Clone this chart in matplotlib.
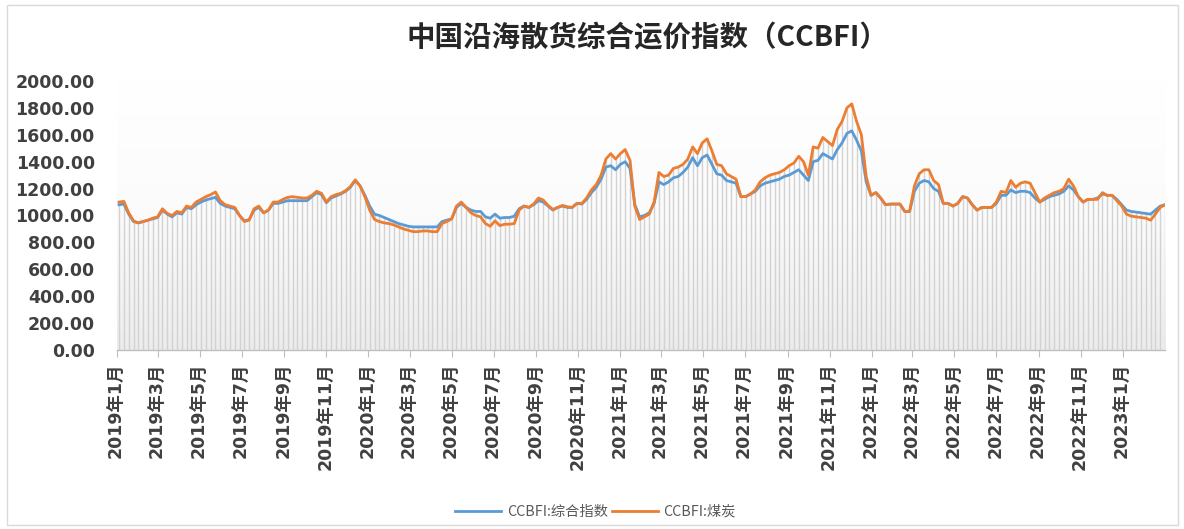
import numpy as np
import pandas as pd
import matplotlib
matplotlib.use("Agg")
import matplotlib.pyplot as plt
import matplotlib.dates as mdates
from matplotlib.colors import LinearSegmentedColormap
from matplotlib.patches import Rectangle

# ---------------- data (weekly) ----------------
start_date = "2019-01-04"

composite = [
    1080, 1085, 1010, 955, 945, 955, 965, 975, 985, 1040,
    1010, 990, 1020, 1010, 1060, 1050, 1080, 1100, 1115, 1125,
    1135, 1090, 1070, 1060, 1050, 1000, 960, 970, 1040, 1060,
    1020, 1040, 1090, 1090, 1100, 1110, 1110, 1110, 1110, 1110,
    1140, 1170, 1155, 1095, 1130, 1145, 1160, 1180, 1210, 1260,
    1220, 1150, 1070, 1010, 1000, 985, 970, 955, 940, 930,
    920, 915, 915, 915, 915, 915, 915, 955, 965, 975,
    1060, 1090, 1060, 1040, 1030, 1030, 990, 980, 1010, 980,
    985, 985, 995, 1050, 1070, 1060, 1080, 1110, 1100, 1070,
    1040, 1060, 1070, 1060, 1060, 1090, 1085, 1120, 1170, 1210,
    1270, 1360, 1370, 1340, 1380, 1400, 1350, 1080, 990, 1000,
    1020, 1090, 1250, 1230, 1250, 1280, 1290, 1320, 1360, 1430,
    1370, 1430, 1450, 1380, 1310, 1300, 1260, 1250, 1240, 1140,
    1140, 1160, 1180, 1220, 1240, 1250, 1260, 1270, 1290, 1300,
    1320, 1340, 1300, 1260, 1400, 1410, 1460, 1440, 1420, 1490,
    1540, 1610, 1630, 1560, 1480, 1250, 1150, 1170, 1130, 1080,
    1085, 1085, 1085, 1030, 1030, 1180, 1240, 1260, 1250, 1200,
    1180, 1090, 1090, 1070, 1090, 1140, 1130, 1080, 1040, 1060,
    1060, 1060, 1090, 1150, 1150, 1190, 1170, 1180, 1180, 1170,
    1130, 1100, 1120, 1140, 1150, 1160, 1180, 1220, 1190, 1140,
    1100, 1120, 1120, 1130, 1160, 1150, 1150, 1120, 1080, 1040,
    1030, 1025, 1020, 1015, 1010, 1040, 1070, 1080,
]

coal = [
    1100, 1105, 1020, 960, 945, 955, 965, 980, 990, 1050,
    1015, 1000, 1030, 1020, 1070, 1060, 1100, 1120, 1140, 1155,
    1175, 1110, 1080, 1070, 1060, 1000, 955, 965, 1050, 1070,
    1020, 1040, 1100, 1100, 1120, 1135, 1140, 1135, 1130, 1130,
    1150, 1180, 1165, 1100, 1140, 1155, 1165, 1185, 1215, 1265,
    1220, 1140, 1040, 970, 955, 945, 940, 930, 915, 900,
    890, 880, 880, 885, 885, 880, 880, 940, 955, 975,
    1070, 1100, 1060, 1020, 1000, 990, 940, 920, 960, 925,
    935, 935, 940, 1040, 1070, 1060, 1085, 1130, 1115, 1075,
    1045, 1060, 1075, 1065, 1060, 1090, 1090, 1130, 1190, 1230,
    1300, 1420, 1460, 1420, 1460, 1490, 1410, 1070, 970, 990,
    1010, 1100, 1320, 1290, 1300, 1350, 1360, 1380, 1420, 1510,
    1460, 1540, 1570, 1480, 1380, 1370, 1310, 1290, 1270, 1140,
    1140, 1160, 1190, 1250, 1280, 1300, 1310, 1320, 1340, 1370,
    1390, 1440, 1400, 1300, 1510, 1500, 1580, 1550, 1520, 1640,
    1700, 1800, 1830, 1700, 1600, 1290, 1150, 1170, 1130, 1080,
    1085, 1085, 1085, 1030, 1030, 1220, 1310, 1340, 1340, 1260,
    1230, 1090, 1090, 1070, 1090, 1140, 1130, 1080, 1040, 1060,
    1060, 1060, 1100, 1180, 1170, 1260, 1210, 1240, 1250, 1240,
    1170, 1100, 1130, 1150, 1170, 1180, 1200, 1270, 1220, 1140,
    1100, 1120, 1120, 1120, 1170, 1150, 1150, 1110, 1070, 1010,
    995, 990, 985, 980, 965, 1010, 1060, 1080,
]

series_names = ["CCBFI:综合指数", "CCBFI:煤炭"]
title_text = "中国沿海散货综合运价指数（CCBFI）"
y_ticks = [0, 200, 400, 600, 800, 1000, 1200, 1400, 1600, 1800, 2000]

# ---------------- figure ----------------
dates = pd.date_range(start_date, periods=len(composite), freq="7D")
comp = np.array(composite, dtype=float)
coal_a = np.array(coal, dtype=float)

fig = plt.figure(figsize=(11.84, 5.29), dpi=100)
fig.patch.set_facecolor("white")
# outer light border
fig.patches.append(Rectangle((0.006, 0.008), 0.989, 0.982, transform=fig.transFigure,
                             fill=False, edgecolor="#d9d9d9", linewidth=1.0))

ax = fig.add_axes([0.0988, 0.3384, 0.8852, 0.5085])

x0 = mdates.date2num(pd.Timestamp("2019-01-01"))
x1 = mdates.date2num(dates[-1])
ax.set_xlim(x0, x1)
ax.set_ylim(0, 2000)

# background gradient in plot area: white on top, light grey at bottom
grad = np.linspace(0, 1, 256).reshape(-1, 1)
cmap = LinearSegmentedColormap.from_list("bg", ["#ffffff", "#fbfbfb", "#ececec"])
ax.imshow(grad, extent=[x0, x1, 0, 2000], aspect="auto", cmap=cmap,
          origin="upper", zorder=0, vmin=0, vmax=1)

xd = mdates.date2num(dates)
top = np.maximum(comp, coal_a)
ax.vlines(xd, 0, top, colors="#d2d2d2", linewidth=1.0, zorder=1)

ax.plot(xd, comp, color="#5B9BD5", linewidth=2.0, label=series_names[0], zorder=3)
ax.plot(xd, coal_a, color="#ED7D31", linewidth=2.0, label=series_names[1], zorder=4)

# axes styling
for s in ["left", "right", "top"]:
    ax.spines[s].set_visible(False)
ax.spines["bottom"].set_color("#bfbfbf")
ax.spines["bottom"].set_linewidth(1.0)

ax.set_yticks(y_ticks)
ax.set_yticklabels([f"{v:.2f}" for v in y_ticks], fontsize=12.5, fontweight="bold",
                   color="#404040", family=["DejaVu Sans"])
ax.tick_params(axis="y", length=0, pad=16)

tick_dates = pd.date_range("2019-01-01", "2023-01-01", freq="2MS")
ax.set_xticks(mdates.date2num(tick_dates))
ax.set_xticklabels([f"{d.year}年{d.month}月" for d in tick_dates], rotation=90,
                   fontsize=12.5, fontweight="bold", color="#404040",
                   family=["DejaVu Sans", "Noto Sans CJK SC"])
ax.tick_params(axis="x", length=5, color="#bfbfbf", pad=4)

fig.text(0.547, 0.928, title_text, ha="center", va="center", fontsize=20.5,
         fontweight="bold", color="#262626", family=["Noto Sans CJK SC", "DejaVu Sans"])

leg = fig.legend(loc="center", bbox_to_anchor=(0.503, 0.033), ncol=2, frameon=False,
                 prop={"family": ["Noto Sans CJK SC", "DejaVu Sans"], "size": 10.3},
                 handlelength=3.2, columnspacing=0.3, handletextpad=0.4)
for t in leg.get_texts():
    t.set_color("#595959")

fig.savefig("out.png", dpi=100, facecolor="white")
